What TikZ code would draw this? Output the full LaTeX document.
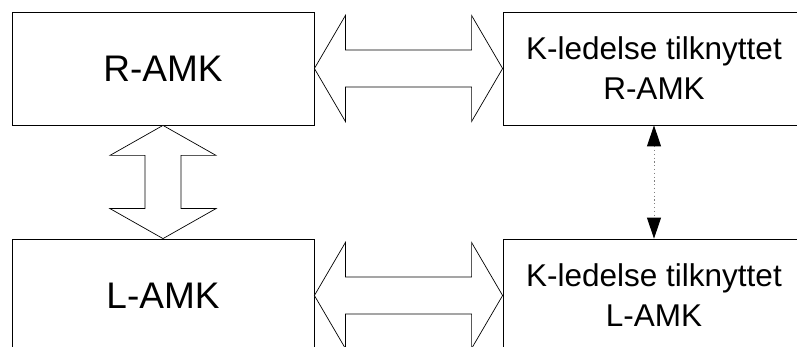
\documentclass[tikz,border=0pt]{standalone}
\usepackage{fontspec}
\setmainfont{Liberation Sans}
\usetikzlibrary{calc,arrows.meta}
\tikzset{
  box/.style={draw=black, line width=0.8pt, fill=white, minimum width=302pt, minimum height=113pt, inner sep=0pt},
  bigtext/.style={font=\fontsize{37}{44}\selectfont},
  smalltext/.style={font=\fontsize{31.5}{40}\selectfont, align=center},
  bigarrow/.style={draw=black, line width=0.7pt, fill=white, line join=miter},
  linkarrow/.style={draw=gray, line width=0.9pt, dash pattern=on 1.2pt off 2.6pt,
    {Triangle[length=21pt,width=14pt,color=black]}-{Triangle[length=21pt,width=14pt,color=black]}}
}
\begin{document}
\begin{tikzpicture}[x=1pt,y=-1pt]
\useasboundingbox (0,0) rectangle (797,347);
\clip (0,0) rectangle (797,347);
\node[box, bigtext] (ramk) at (163,68.5) {R-AMK};
\node[box, smalltext] (kr) at (654,68.5) {K-ledelse tilknyttet\\R-AMK};
\node[box, bigtext] (lamk) at (163,295.5) {L-AMK};
\node[box, smalltext] (kl) at (654,295.5) {K-ledelse tilknyttet\\L-AMK};
% top horizontal double arrow
\draw[bigarrow] (ramk.east) -- ($(ramk.east)+(31,-53)$) -- ($(ramk.east)+(31,-18.5)$)
  -- ($(kr.west)+(-31,-18.5)$) -- ($(kr.west)+(-31,-53)$) -- (kr.west)
  -- ($(kr.west)+(-31,53)$) -- ($(kr.west)+(-31,18.5)$)
  -- ($(ramk.east)+(31,18.5)$) -- ($(ramk.east)+(31,53)$) -- cycle;
% bottom horizontal double arrow
\draw[bigarrow] (lamk.east) -- ($(lamk.east)+(31,-53)$) -- ($(lamk.east)+(31,-18.5)$)
  -- ($(kl.west)+(-31,-18.5)$) -- ($(kl.west)+(-31,-53)$) -- (kl.west)
  -- ($(kl.west)+(-31,53)$) -- ($(kl.west)+(-31,18.5)$)
  -- ($(lamk.east)+(31,18.5)$) -- ($(lamk.east)+(31,53)$) -- cycle;
% vertical double arrow
\draw[bigarrow] (ramk.south) -- ($(ramk.south)+(53,30)$) -- ($(ramk.south)+(18,30)$)
  -- ($(lamk.north)+(18,-30)$) -- ($(lamk.north)+(53,-30)$) -- (lamk.north)
  -- ($(lamk.north)+(-53,-30)$) -- ($(lamk.north)+(-18,-30)$)
  -- ($(ramk.south)+(-18,30)$) -- ($(ramk.south)+(-53,30)$) -- cycle;
% dotted link
\draw[linkarrow] (kr.south) -- (kl.north);
\end{tikzpicture}
\end{document}
